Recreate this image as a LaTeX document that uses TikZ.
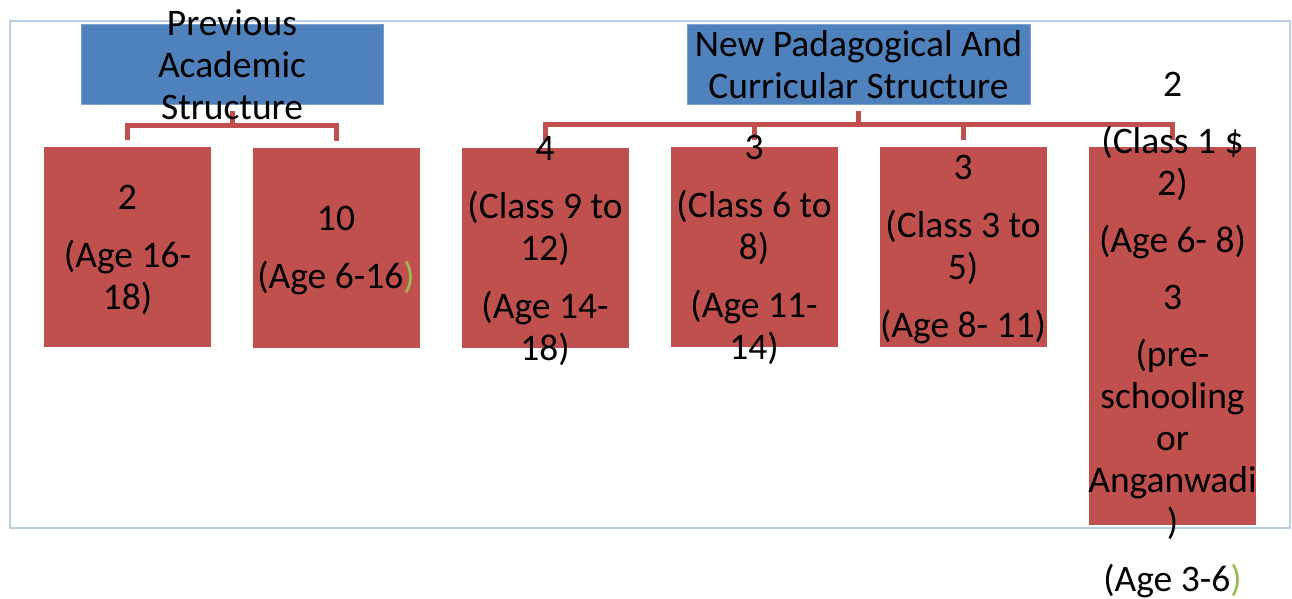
\documentclass[tikz,border=0pt]{standalone}
\usepackage{fontspec}
\setmainfont{Carlito}
\usetikzlibrary{positioning}
\definecolor{headblue}{HTML}{4F81BD}
\definecolor{boxred}{HTML}{C0504D}
\definecolor{framebl}{HTML}{B9CDE5}
\definecolor{pargreen}{HTML}{9BBB59}
\tikzset{
  head/.style={fill=headblue, draw=headblue!75!white, line width=1pt, minimum height=80pt, inner sep=0pt},
  redbox/.style={fill=boxred, minimum width=167pt, minimum height=200pt, inner sep=0pt},
  txt/.style={align=center, inner sep=0pt, font=\fontsize{37.5}{42}\selectfont},
  boxtxt/.style={txt, yshift=-3pt},
  link/.style={draw=boxred, line width=5pt}
}
\begin{document}
\begin{tikzpicture}[x=1pt,y=-1pt]
\useasboundingbox (0,0) rectangle (1292,599);
\draw[framebl, line width=2pt] (10,21) rectangle (1290,528);
% headings
\node[head, minimum width=302pt] (pas) at (232,64.5) {};
\node[head, minimum width=343pt] (npc) at (858.5,64.5) {};
% boxes
\node[redbox] (old1) at (127.5,247) {};
\node[redbox] (old2) at (336,248) {};
\node[redbox] (new1) at (545,248) {};
\node[redbox] (new2) at (754,247) {};
\node[redbox] (new3) at (963,247) {};
\node[redbox, minimum height=378pt] (new4) at (1172.5,336) {};
% connectors
\draw[link] ([yshift=-6pt]pas.south) -- ([yshift=-20pt]pas.south);
\draw[link] ([yshift=7pt]old1.north) |- ([yshift=22pt]old2.north) -- ([yshift=7pt]old2.north);
\draw[link] ([yshift=-6pt]npc.south) -- ([yshift=-20pt]npc.south);
\draw[link] ([yshift=7pt]new1.north) |- ([yshift=22pt]new4.north) -- ([yshift=7pt]new4.north);
\foreach \n in {new2,new3}{
	\draw[link] ([yshift=7pt]\n.north) -- ([yshift=22pt]\n.north);
}
% texts
\node[txt] at (pas) {Previous\\Academic\\Structure};
\node[txt] at (npc) {New Padagogical And\\Curricular Structure};
\node[boxtxt] at (old1) {2\\[16pt](Age 16-\\18)};
\node[boxtxt] at (old2) {10\\[16pt](Age 6-16{\color{pargreen})}};
\node[boxtxt] at (new1) {4\\[16pt](Class 9 to\\12)\\[16pt](Age 14-\\18)};
\node[boxtxt] at (new2) {3\\[16pt](Class 6 to\\8)\\[16pt](Age 11-\\14)};
\node[boxtxt] at (new3) {3\\[16pt](Class 3 to\\5)\\[16pt](Age 8- 11)};
\node[txt, yshift=1pt] at (new4) {2\\[15pt](Class 1 \$\\2)\\[15pt](Age 6- 8)\\[15pt]3\\[15pt](pre-\\schooling\\or\\Anganwadi\\)\\[15pt](Age 3-6{\color{pargreen})}};
\end{tikzpicture}
\end{document}
